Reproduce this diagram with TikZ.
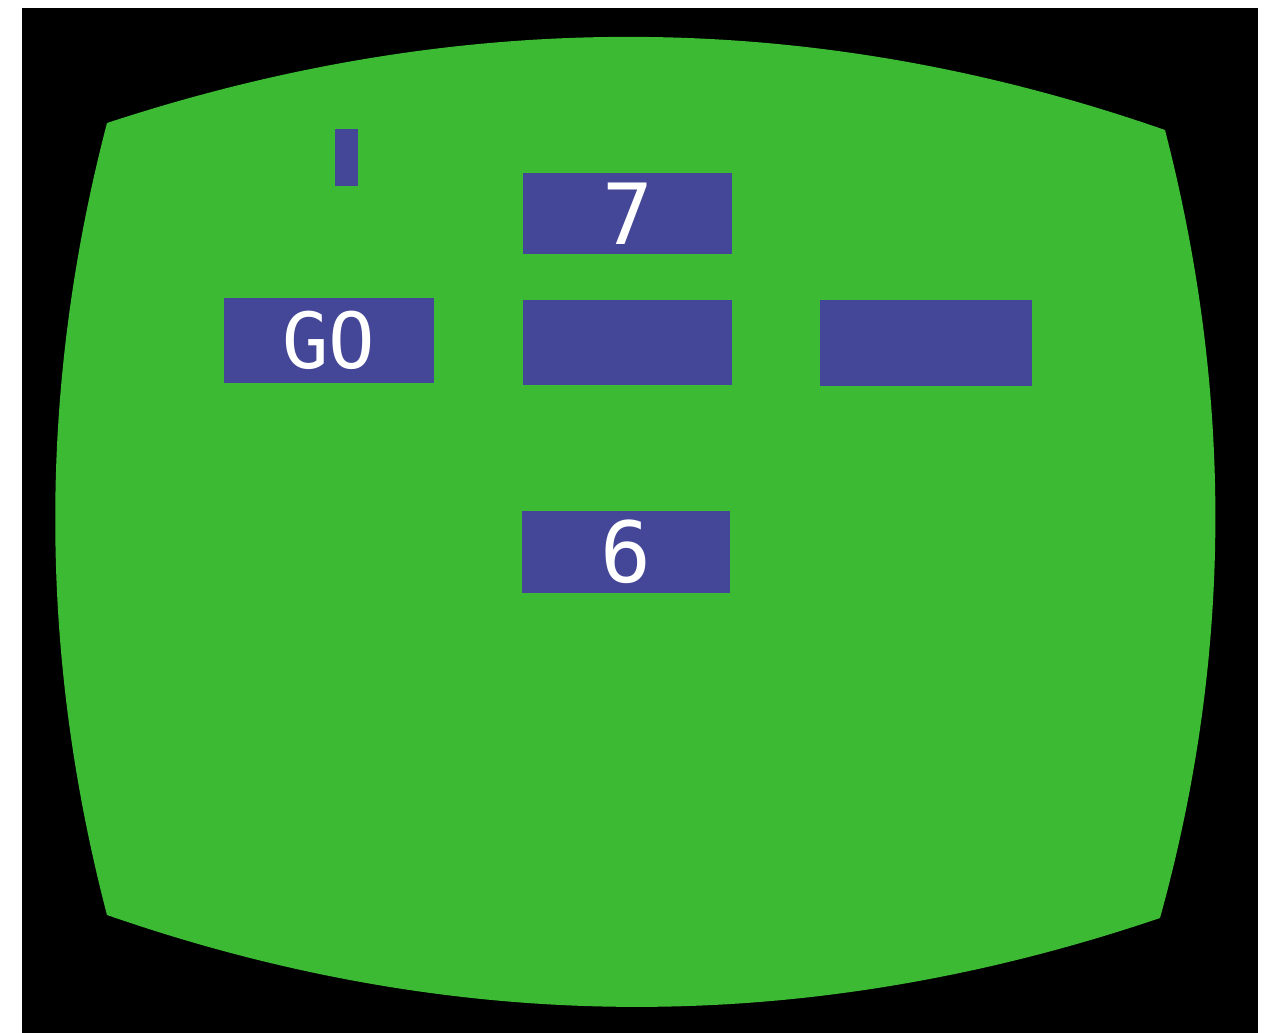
\documentclass[tikz,border=0pt]{standalone}
\usepackage{fontspec}
\newfontfamily\crtfont{DejaVu Sans Mono}
\usetikzlibrary{positioning}
\definecolor{screengreen}{RGB}{60,186,52}
\definecolor{boxblue}{RGB}{68,70,152}
\tikzset{
  screenbox/.style={fill=boxblue, inner sep=0pt, text=white, align=center},
  crttext/.style={font=\crtfont\fontsize{22}{22}\selectfont},
  crtdigit/.style={font=\crtfont\fontsize{24}{24}\selectfont}
}

\begin{document}
\begin{tikzpicture}[x=0.01cm, y=-0.01cm]
  \useasboundingbox (0,0) rectangle (1275,1033);
  \fill[white] (0,0) rectangle (1275,1033);
  \fill[black] (22,8) rectangle (1258,1033);
  % the curved face of the tube
  \fill[screengreen] (107,123) .. controls (460,7) and (812,7) .. (1165,130)
    .. controls (1233,393) and (1233,655) .. (1160,918)
    .. controls (809,1037) and (458,1037) .. (107,915)
    .. controls (38,651) and (38,387) .. cycle;
  \node[screenbox, minimum width=0.23cm, minimum height=0.57cm] (bar) at (346.5,157.5) {};
  \node[screenbox, crtdigit, minimum width=2.09cm, minimum height=0.81cm] (seven) at (627.5,213.5) {7};
  \node[screenbox, crttext, minimum width=2.10cm, minimum height=0.85cm] (go) at (329,340.5) {GO};
  \node[screenbox, minimum width=2.09cm, minimum height=0.85cm] (middle) at (627.5,342.5) {};
  \node[screenbox, minimum width=2.12cm, minimum height=0.86cm] (right) at (926,343) {};
  \node[screenbox, crtdigit, minimum width=2.08cm, minimum height=0.82cm] (six) at (626,552) {6};
\end{tikzpicture}
\end{document}
